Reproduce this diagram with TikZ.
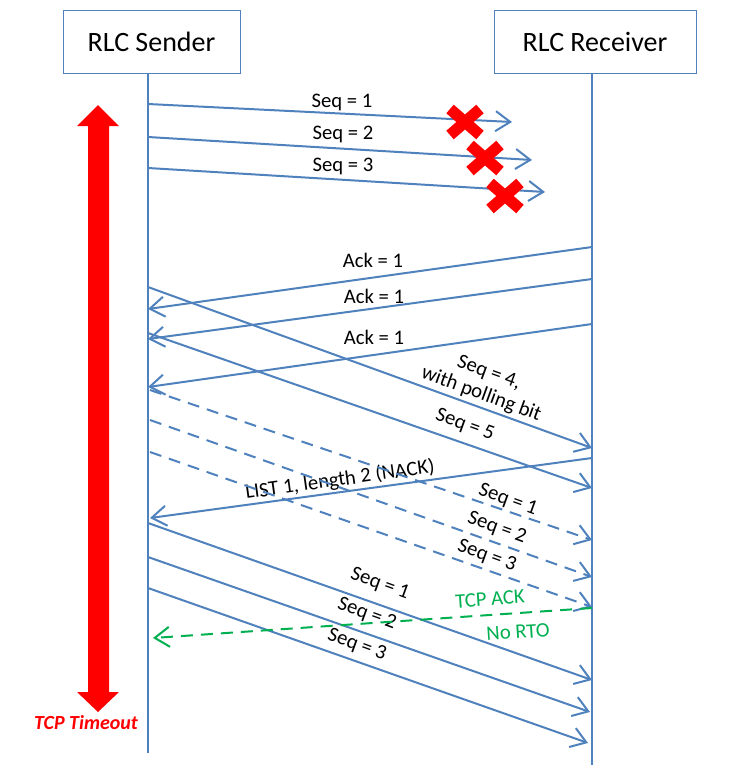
\documentclass[tikz,border=0pt]{standalone}
\usepackage{fontspec}
\setmainfont{Carlito}
\usetikzlibrary{arrows.meta}
\definecolor{rlcblue}{RGB}{79,129,189}
\definecolor{ackgreen}{RGB}{0,176,80}
\tikzset{
    % header box on top of a lifeline
    actor/.style={
        draw=rlcblue, line width=0.75pt, inner sep=0pt,
        minimum height=47.25pt, font=\fontsize{21}{25}\selectfont
    },
    % lifeline
    life/.style={rlcblue, line width=1.5pt},
    % messages (first transmission, retransmission, TCP ack)
    msg/.style={-{Straight Barb[length=11pt,width=15pt]}, line width=1.5pt, rlcblue},
    retx/.style={msg, dash pattern=on 9pt off 6pt},
    tcpack/.style={msg, ackgreen, dash pattern=on 9pt off 6pt},
    % message labels
    lbl/.style={font=\fontsize{15.5}{17}\selectfont, inner sep=1pt, align=center},
    greenlbl/.style={lbl, text=ackgreen},
    % lost packet mark
    lost/.style={red, line width=8.5pt},
}
\begin{document}
\begin{tikzpicture}[x=0.75pt,y=-0.75pt]
  \useasboundingbox (0,0) rectangle (738,783);
  % lifelines
  \node[actor,minimum width=132.75pt] (snd) at (151.5,41.5) {RLC Sender};
  \node[actor,minimum width=151.5pt] (rcv) at (595,41.5) {RLC Receiver};
  \coordinate (sb) at (148,753);
  \coordinate (rb) at (592,765);
  \draw[life] (snd.south -| sb) -- (sb);
  \draw[life] (rcv.south -| rb) -- (rb);

  % TCP timeout span
  \fill[red] (98,105) -- (119,126) -- (109,126) -- (109,692) -- (119,692)
    -- (98,712) -- (77,692) -- (88,692) -- (88,126) -- (77,126) -- cycle;
  \node[text=red,font=\fontsize{15}{17}\selectfont\bfseries\itshape] (rto) at (86,723) {TCP Timeout};

  % first burst, lost on the air
  \coordinate (s1) at (148,104); \coordinate (l1) at (512,122);
  \coordinate (s2) at (148,137); \coordinate (l2) at (532,160);
  \coordinate (s3) at (148,168); \coordinate (l3) at (545,192);
  \draw[msg] (s1) -- (l1); \draw[msg] (s2) -- (l2); \draw[msg] (s3) -- (l3);
  \node[lbl] (q1) at (342,102) {Seq = 1};
  \node[lbl] (q2) at (343,134) {Seq = 2};
  \node[lbl] (q3) at (343,166) {Seq = 3};
  \draw[lost] (465,122) +(-15,-13) -- +(15,13) +(-15,13) -- +(15,-13);
  \draw[lost] (485,158) +(-15,-13) -- +(15,13) +(-15,13) -- +(15,-13);
  \draw[lost] (505,196) +(-15,-13) -- +(15,13) +(-15,13) -- +(15,-13);

  % acks coming back
  \coordinate (r4) at (592,247); \coordinate (a4) at (148,309);
  \coordinate (r5) at (592,279); \coordinate (a5) at (148,339);
  \coordinate (r6) at (592,324); \coordinate (a6) at (148,387);
  \draw[msg] (r4) -- (a4); \draw[msg] (r5) -- (a5); \draw[msg] (r6) -- (a6);
  \node[lbl] (k1) at (373,260) {Ack = 1};
  \node[lbl] (k2) at (374,296) {Ack = 1};
  \node[lbl] (k3) at (374,337) {Ack = 1};

  % new data with poll
  \coordinate (s4) at (148,287); \coordinate (r7) at (592,448);
  \coordinate (s5) at (148,333); \coordinate (r8) at (592,488);
  \draw[msg] (s4) -- (r7); \draw[msg] (s5) -- (r8);
  \node[lbl,rotate=-20] (q4) at (485,384) {Seq = 4,\\with polling bit};
  \node[lbl,rotate=-20] (q5) at (465,425) {Seq = 5};

  % status report
  \coordinate (r9) at (592,458); \coordinate (n1) at (150,518);
  \draw[msg] (r9) -- (n1);
  \node[lbl,rotate=8] (nk) at (340,480) {LIST 1, length 2 (NACK)};

  % retransmissions
  \coordinate (t1) at (150,390); \coordinate (u1) at (592,540);
  \coordinate (t2) at (150,420); \coordinate (u2) at (592,577);
  \coordinate (t3) at (150,452); \coordinate (u3) at (592,607);
  \draw[retx] (t1) -- (u1); \draw[retx] (t2) -- (u2); \draw[retx] (t3) -- (u3);
  \node[lbl,rotate=-20] (p1) at (508,500) {Seq = 1};
  \node[lbl,rotate=-20] (p2) at (497,528) {Seq = 2};
  \node[lbl,rotate=-20] (p3) at (487,556) {Seq = 3};

  % resent to TCP again
  \coordinate (v1) at (148,523); \coordinate (w1) at (592,680);
  \coordinate (v2) at (148,557); \coordinate (w2) at (590,712);
  \coordinate (v3) at (148,588); \coordinate (w3) at (588,743);
  \draw[msg] (v1) -- (w1); \draw[msg] (v2) -- (w2); \draw[msg] (v3) -- (w3);
  \node[lbl,rotate=-20] (m1) at (380,584) {Seq = 1};
  \node[lbl,rotate=-20] (m2) at (367,614) {Seq = 2};
  \node[lbl,rotate=-20] (m3) at (357,645) {Seq = 3};

  % TCP ack
  \coordinate (g1) at (592,608); \coordinate (g2) at (153,638);
  \draw[tcpack] (g1) -- (g2);
  \node[greenlbl,rotate=4] (ga) at (490,599) {TCP ACK};
  \node[greenlbl,rotate=4] (gb) at (518,632) {No RTO};
\end{tikzpicture}
\end{document}
